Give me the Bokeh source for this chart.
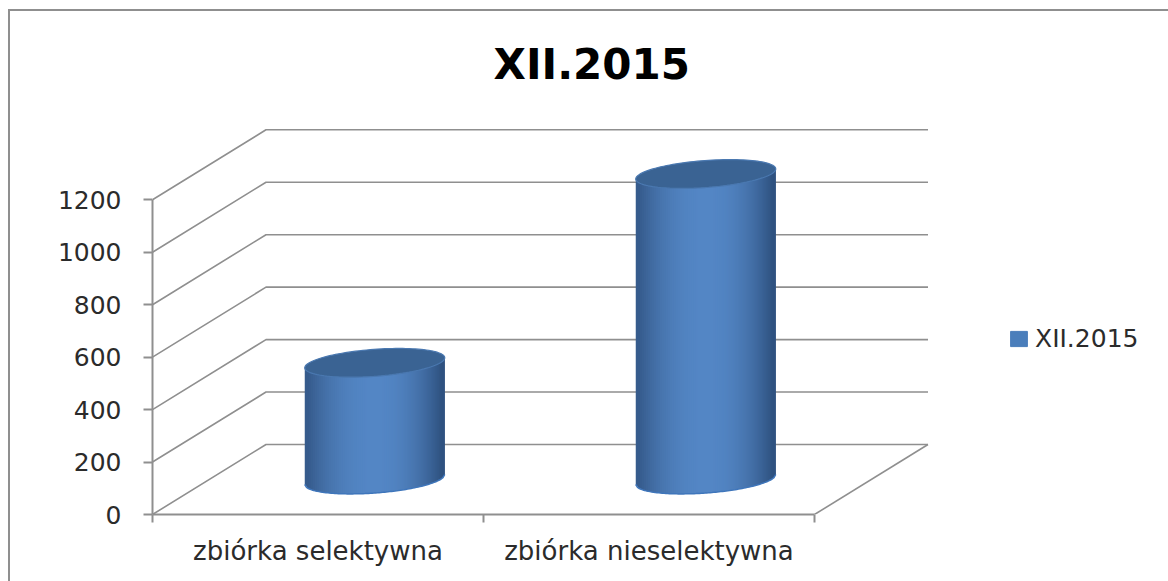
import numpy as np
from bokeh.plotting import figure
from bokeh.embed import file_html
from bokeh.resources import INLINE
from bokeh.models import FixedTicker, LinearAxis, Legend, LegendItem, Range1d, InlineStyleSheet

categories = ["zbiórka selektywna", "zbiórka nieselektywna"]
series_name = "XII.2015"
values = [445, 1165]
y_ticks = [0, 200, 400, 600, 800, 1000, 1200]

W, H = 1168, 581
LEFT, BOTTOM, TOP = 152, 67, 100
PX_X = 331             # pixels per category
PX_Y = 314.7 / 1200    # pixels per value unit
DX = 113.5 / PX_X      # depth offset, data units
DY = 70 / PX_Y
GRID = "#8f8f8f"
TXT = "#2b2b2b"
FONT = "DejaVu Sans"

p = figure(width=W, height=H, output_backend="svg", toolbar_location=None,
           x_axis_type=None, y_axis_type=None,
           x_range=Range1d(0, (W - LEFT) / PX_X),
           y_range=Range1d(0, (H - BOTTOM - TOP) / PX_Y),
           min_border_left=LEFT, min_border_right=0,
           min_border_bottom=BOTTOM, min_border_top=TOP,
           title=series_name)
p.outline_line_color = None
p.grid.visible = False
p.background_fill_color = "white"
p.border_fill_alpha = 0
p.background_fill_alpha = 0
p.stylesheets = [InlineStyleSheet(css="""
:host { overflow: hidden; background: white; }
:host::before { content: ""; position: absolute; left: 8px; top: 9px;
  width: 3000px; height: 3000px; border: 2px solid #8f8f8f; }
""")]

p.title.text_font = FONT
p.title.text_font_style = "bold"
p.title.text_font_size = "42px"
p.title.text_color = "#000000"
p.title.align = "left"
p.title.offset = 341
p.title.standoff = 24

# axes
xa = LinearAxis(ticker=FixedTicker(ticks=[0.5, 1.5], minor_ticks=[0, 1, 2]),
                major_label_overrides={0.5: categories[0], 1.5: categories[1]},
                bounds=(0, 2), major_tick_in=0, major_tick_out=0,
                minor_tick_in=0, minor_tick_out=8,
                major_label_standoff=13,
                axis_line_color=GRID, axis_line_width=2,
                minor_tick_line_color=GRID, minor_tick_line_width=2,
                major_label_text_font=FONT, major_label_text_font_size="26px",
                major_label_text_color=TXT)
ya = LinearAxis(ticker=FixedTicker(ticks=y_ticks), bounds=(0, max(y_ticks)),
                major_tick_in=0, major_tick_out=9, minor_tick_out=0, minor_tick_in=0,
                major_label_standoff=22,
                axis_line_color=GRID, axis_line_width=2,
                major_tick_line_color=GRID, major_tick_line_width=2,
                major_label_text_font=FONT, major_label_text_font_size="25px",
                major_label_text_color=TXT)
p.add_layout(xa, "below")
p.add_layout(ya, "left")

# 3D walls: each tick runs back along the side wall, then across the back wall
xs = [[0, DX, 2 + DX] for _ in y_ticks]
ys = [[v, v + DY, v + DY] for v in y_ticks]
xs.append([2, 2 + DX])
ys.append([0, DY])
p.multi_line(xs, ys, line_color=GRID, line_width=1.6)

# cylinders
HALF_W = 70 / PX_X
B = 13.5 / PX_Y        # half thickness of the end ellipses
TILT = 5 / PX_Y        # rise of the ellipse towards its right edge
CEN = np.array([0x53, 0x86, 0xc5], float)
EDGE_L = np.array([0x36, 0x5b, 0x8c], float)
EDGE_R = np.array([0x2f, 0x52, 0x80], float)


def hexc(c):
    return "#%02x%02x%02x" % tuple(int(round(a)) for a in c)


N = 70
edges = np.linspace(-1, 1, N + 1)
for i, v in enumerate(values):
    cx = i + 0.5 + DX / 2
    base = DY / 2
    sx, sy, sc = [], [], []
    lo = lambda u: base + TILT * u - B * np.sqrt(max(1 - u * u, 0))
    hi = lambda u: v + base + TILT * u
    for k in range(N):
        a, b = edges[k], edges[min(k + 2, N)]  # overlaps its neighbour, hiding seams
        m = (edges[k] + edges[k + 1]) / 2
        t = min(abs(m) / 0.95, 1) ** 2.2
        c = CEN + ((EDGE_L if m < 0 else EDGE_R) - CEN) * t
        sx.append([cx + a * HALF_W, cx + b * HALF_W, cx + b * HALF_W, cx + a * HALF_W])
        sy.append([lo(a), lo(b), hi(b), hi(a)])
        sc.append(hexc(c))
    p.patches(sx, sy, fill_color=sc, line_color=None)

    u = np.linspace(0, 2 * np.pi, 120)
    ex = cx + HALF_W * np.cos(u)
    ey = v + base + TILT * np.cos(u) + B * np.sin(u)
    p.patch(ex, ey, fill_color="#3a6393", line_color="#4a78b0", line_width=1.2)

    w = np.linspace(-1, 1, 80)
    p.line(cx + w * HALF_W, base + TILT * w - B * np.sqrt(1 - w * w),
           line_color="#3f76bb", line_width=1.5)

# legend
nan = float("nan")
swatch = p.quad(left=[nan], right=[nan], top=[nan], bottom=[nan],
                fill_color="#4a7ebb", line_color="#4a7ebb")
legend = Legend(items=[LegendItem(label=series_name, renderers=[swatch])],
                location=(856, 161), orientation="vertical",
                glyph_width=21, glyph_height=19, label_standoff=6,
                label_text_font=FONT, label_text_font_size="25px", label_text_color=TXT,
                border_line_color=None, background_fill_alpha=0,
                padding=0, margin=0, spacing=0)
p.add_layout(legend, "center")

open("out.html", "w").write(file_html(p, INLINE))
